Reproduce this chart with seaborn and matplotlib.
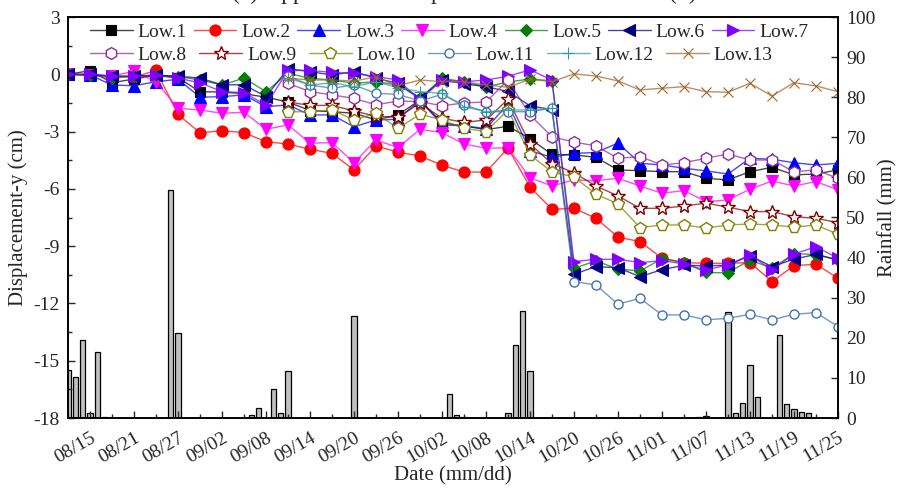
import matplotlib
matplotlib.use("Agg")
import matplotlib.pyplot as plt
import matplotlib.transforms as mtransforms
from matplotlib.ticker import MultipleLocator, FixedLocator
import pandas as pd
import seaborn as sns

sns.set_style("ticks")
plt.rcParams["font.family"] = ["Liberation Serif", "DejaVu Serif"]
plt.rcParams["axes.unicode_minus"] = False

# ---------------- data ----------------
# x axis: days counted from 08/12 (day 0) to 11/25 (day 105); readings every 3 days
point_days = list(range(0, 106, 3))
tick_days = [3, 9, 15, 21, 27, 33, 39, 45, 51, 57, 63, 69, 75, 81, 87, 93, 99, 105]
tick_labels = ["08/15", "08/21", "08/27", "09/02", "09/08", "09/14", "09/20", "09/26",
               "10/02", "10/08", "10/14", "10/20", "10/26", "11/01", "11/07", "11/13",
               "11/19", "11/25"]

low1 = [0, 0.19, -0.44, -0.25, -0.04, -0.18, -0.91, -0.93, -1.02, -1.2, -1.45, -1.9, -1.96, -2.04,
        -2.39, -2.13, -1.35, -2.55, -2.7, -2.9, -2.72, -3.37, -4.2, -4.22, -4.35, -5.01, -5.05,
        -5.1, -5.1, -5.45, -5.53, -5.1, -4.87, -5.27, -5.22, -5.01]
low2 = [0, -0.05, -0.1, -0.15, 0.2, -2.1, -3.07, -2.95, -3.06, -3.53, -3.65, -3.93, -4.14, -5.01,
        -3.75, -4.08, -4.28, -4.76, -5.12, -5.12, -3.87, -5.9, -7.07, -7.02, -7.54, -8.53, -8.76,
        -9.63, -9.86, -9.9, -9.9, -9.86, -10.86, -10.02, -9.95, -10.68]
low3 = [0, -0.04, -0.56, -0.6, -0.39, -0.26, -1.2, -1.17, -1.08, -1.7, -1.6, -2.13, -2.13, -2.75,
        -2.39, -2.36, -1.35, -2.65, -2.7, -2.85, -1.55, -4.0, -4.35, -4.14, -4.1, -3.6, -4.66,
        -4.75, -4.92, -5.06, -5.22, -4.4, -4.45, -4.63, -4.75, -4.66]
low4 = [0, -0.04, -0.08, 0.15, -0.39, -1.78, -1.87, -2.04, -1.99, -2.88, -2.65, -3.61, -3.58,
        -4.63, -3.44, -3.84, -2.88, -3.06, -3.65, -3.87, -3.85, -5.42, -5.85, -5.53, -5.57, -5.45,
        -5.85, -6.23, -6.09, -6.67, -6.58, -6.02, -5.59, -5.85, -5.62, -6.06]
low5 = [0, -0.05, -0.2, -0.1, -0.05, -0.12, -0.3, -0.56, -0.2, -0.91, 0.05, -0.21, -0.3, -0.47,
        -0.39, -0.56, -1.26, -0.21, -0.39, -0.66, -0.4, -0.25, -0.34, -10.16, -9.77, -10.2, -10.3,
        -9.66, -9.86, -10.38, -10.4, -9.72, -10.16, -9.39, -9.44, -9.7]
low6 = [0, 0, -0.1, -0.1, -0.05, -0.1, -0.2, -0.55, -0.55, -1.17, 0.3, 0.14, -0.04, 0.14, -0.21,
        -0.47, -1.26, -0.3, -0.5, -0.65, -0.9, -1.65, -1.85, -10.47, -10.07, -10.13, -10.6,
        -10.23, -10.0, -10.03, -10.0, -9.5, -10.07, -9.68, -9.43, -9.74]
low7 = [0, 0, -0.1, -0.1, -0.05, -0.21, -0.44, -0.91, -0.96, -1.61, 0.2, 0.2, 0.1, 0.05, -0.12,
        -0.3, -1.35, -0.3, -0.39, -0.3, -0.1, 0.23, -0.3, -9.81, -9.69, -9.69, -9.86, -9.76,
        -9.93, -10.25, -9.98, -9.46, -10.25, -9.41, -9.03, -9.63]
# the following series start on 09/11 (day 30)
low8 = [-0.47, -0.91, -1.08, -1.26, -1.6, -1.4, -1.43, -1.65, -1.5, -1.45, -0.3, -2.13, -3.27,
        -3.55, -3.75, -4.4, -4.31, -4.75, -4.63, -4.4, -4.17, -4.49, -4.49, -5.1, -5.01, -5.45]
low9 = [-1.45, -1.63, -1.63, -1.92, -2.2, -2.24, -1.52, -2.3, -2.52, -2.39, -1.31, -3.65, -4.68,
        -5.16, -5.85, -6.37, -7.02, -7.02, -6.9, -6.75, -6.96, -7.19, -7.19, -7.46, -7.54, -7.77]
low10 = [-1.96, -1.96, -1.87, -2.39, -2.04, -2.83, -2.09, -2.39, -2.83, -3.0, -1.87, -4.22, -5.12,
         -5.37, -6.28, -6.79, -8.03, -7.89, -7.89, -8.06, -7.89, -7.84, -7.89, -8.01, -7.89, -8.38]
low11 = [-0.1, -0.56, -0.73, -0.56, -1.0, -1.05, -1.4, -1.05, -1.61, -1.96, -1.96, -1.96, -1.78,
         -10.86, -11.03, -12.04, -11.73, -12.6, -12.6, -12.86, -12.78, -12.57, -12.86, -12.57,
         -12.48, -13.21]
low12 = [-0.2, -0.56, -0.44, -0.65, -0.39, -0.7, -0.91, -1.0, -1.7, -1.96, -1.87, -1.87, -1.78]
low13 = [-0.2, -0.3, -0.3, -0.35, -0.14, -0.6, -0.3, -0.39, -0.39, -0.56, -0.68, -0.26, -0.39,
         0.02, -0.09, -0.35, -0.82, -0.73, -0.65, -0.91, -0.94, -0.47, -1.14, -0.44, -0.61, -0.91]

rain_day = [0, 1, 2, 3, 4, 5, 14, 15, 25, 26, 28, 29, 30, 39, 52, 53, 54, 60, 61, 62, 63,
            86, 87, 90, 91, 92, 93, 94, 97, 98, 99, 100, 101]
rain_mm = [12.0, 10.3, 19.5, 1.2, 16.5, 0.2, 56.9, 21.1, 0.75, 2.6, 7.2, 1.2, 11.6, 25.4, 5.9,
           0.75, 0.3, 1.3, 18.2, 26.8, 11.8, 0.3, 0.5, 26.5, 1.2, 3.7, 13.1, 5.3, 20.7, 3.4, 2.2,
           1.4, 1.2]

# name, values, first index, color, marker, size, filled
series = [
    ("Low.1", low1, 0, "#000000", "s", 7, True),
    ("Low.2", low2, 0, "#ff0000", "o", 8, True),
    ("Low.3", low3, 0, "#0000ff", "^", 8, True),
    ("Low.4", low4, 0, "#ff00ff", "v", 8, True),
    ("Low.5", low5, 0, "#008000", "D", 6, True),
    ("Low.6", low6, 0, "#000080", "<", 8, True),
    ("Low.7", low7, 0, "#8000ff", ">", 8, True),
    ("Low.8", low8, 10, "#8e2a9e", "h", 8.5, False),
    ("Low.9", low9, 10, "#800000", "*", 10, False),
    ("Low.10", low10, 10, "#808000", "p", 8.5, False),
    ("Low.11", low11, 10, "#3f72b0", "o", 6.5, False),
    ("Low.12", low12, 10, "#2a9d9d", "+", 8, True),
    ("Low.13", low13, 10, "#a0662c", "x", 7.5, True),
]

# ---------------- figure ----------------
fig = plt.figure(figsize=(8.97, 4.90), dpi=100)
ax = fig.add_axes([68 / 897, 1 - 418 / 490, 770 / 897, 401 / 490])
ax2 = ax.twinx()

sns.barplot(x=rain_day, y=rain_mm, native_scale=True, ax=ax2, width=0.72,
            color="#c0c0c0", saturation=1, edgecolor="black", linewidth=0.9,
            errorbar=None)

ax.set_zorder(ax2.get_zorder() + 1)
ax.patch.set_visible(False)

for name, vals, start, col, mk, ms, filled in series:
    df = pd.DataFrame({"day": point_days[start:start + len(vals)], "disp": vals})
    rgb = matplotlib.colors.to_rgb(col)
    sns.lineplot(data=df, x="day", y="disp", ax=ax, estimator=None, sort=False,
                 legend=False, label=name, color=(*rgb, 0.72), linewidth=1.0,
                 marker=mk, markersize=ms,
                 markerfacecolor=col if filled else "white",
                 markeredgecolor=col, markeredgewidth=1.0 if not filled else 0.8)

ax.set_xlim(0, 105)
ax.set_ylim(-18, 3)
ax2.set_ylim(0, 100)
ax2.set_xlim(0, 105)

ax.yaxis.set_major_locator(MultipleLocator(3))
ax.yaxis.set_minor_locator(MultipleLocator(1.5))
ax.xaxis.set_major_locator(FixedLocator(tick_days))
ax.xaxis.set_minor_locator(MultipleLocator(3))
ax2.yaxis.set_major_locator(MultipleLocator(10))

ax.set_xticks(tick_days)
ax.set_xticklabels(tick_labels, rotation=30, ha="right", rotation_mode="anchor")
offset = mtransforms.ScaledTranslation(7 / 72, 0, fig.dpi_scale_trans)
for lab in ax.get_xticklabels():
    lab.set_transform(lab.get_transform() + offset)

ax.tick_params(axis="both", which="major", direction="in", length=5, width=1,
               labelsize=14, top=False, right=False)
ax.tick_params(axis="both", which="minor", direction="in", length=3, width=1,
               top=False, right=False)
ax.tick_params(axis="x", which="major", pad=8)
ax.tick_params(axis="y", which="major", pad=6)
ax2.tick_params(axis="y", which="major", direction="in", length=5, width=1,
                labelsize=14, pad=6)

for a in (ax, ax2):
    for sp in a.spines.values():
        sp.set_visible(True)
        sp.set_linewidth(1.2)
        sp.set_color("black")

ax.set_xlabel("Date (mm/dd)", fontsize=15, labelpad=0)
ax.set_ylabel("Displacement-y (cm)", fontsize=15, labelpad=4)
ax2.set_ylabel("Rainfall (mm)", fontsize=15, labelpad=2)

handles, labels = ax.get_legend_handles_labels()
leg1 = ax.legend(handles[:7], labels[:7], ncol=7, loc="center left",
                 bbox_to_anchor=(0.0286, 0.9626), frameon=False, fontsize=14,
                 handlelength=2.2, handletextpad=0.25, columnspacing=0.35,
                 borderpad=0, borderaxespad=0)
ax.add_artist(leg1)
ax.legend(handles[7:], labels[7:], ncol=6, loc="center left",
          bbox_to_anchor=(0.0286, 0.9052), frameon=False, fontsize=14,
          handlelength=2.2, handletextpad=0.25, columnspacing=0.65,
          borderpad=0, borderaxespad=0)

# title, mostly cut off by the top edge of the image (only its lowest parts show)
fig.text(232 / 897, 1 + 1 / 490, "(a) Upper surface displacement of the low fill (b)",
         ha="left", va="baseline", fontsize=17)

fig.savefig("out.png", dpi=100)
